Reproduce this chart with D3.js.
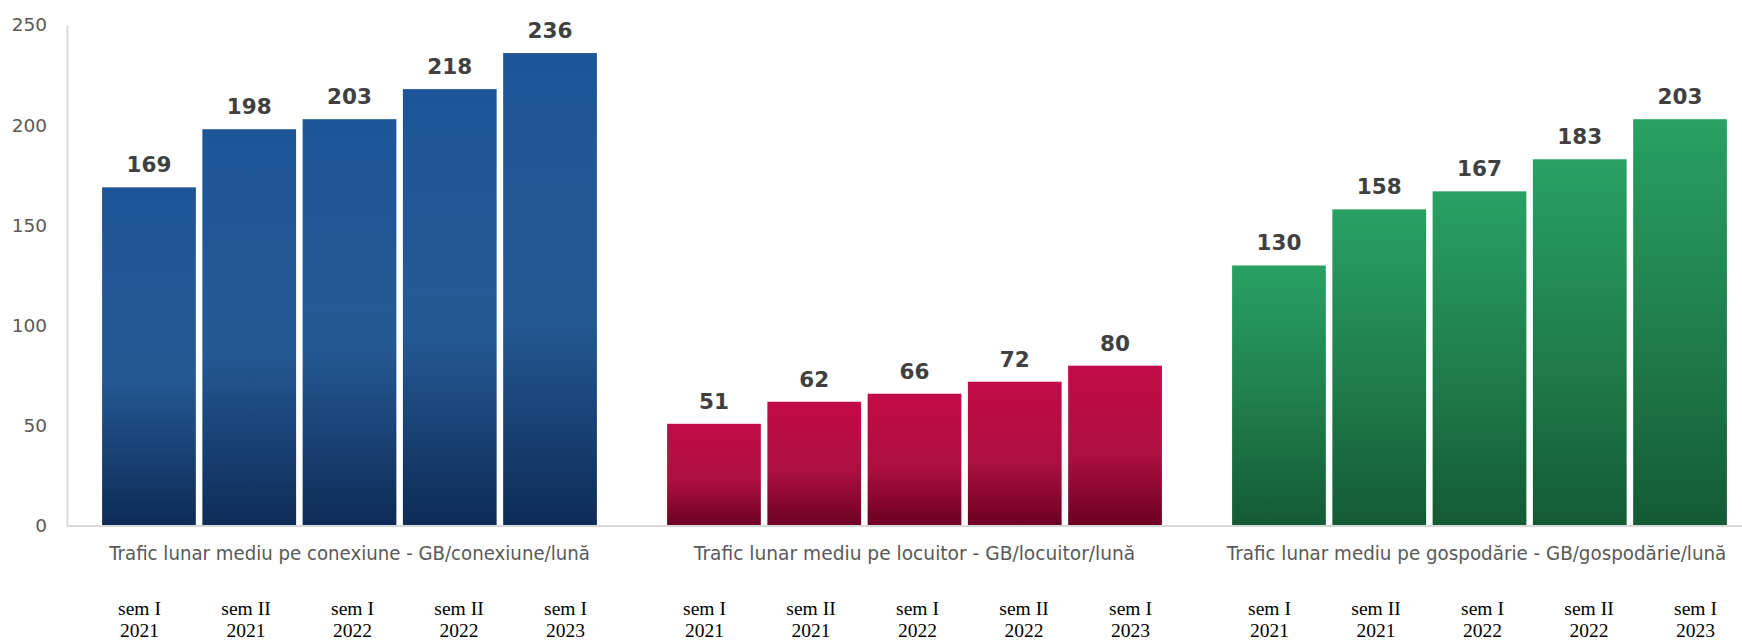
<!DOCTYPE html>
<html><head><meta charset="utf-8">
<script src="https://cdn.jsdelivr.net/npm/d3@7"></script>
<style>html,body{margin:0;padding:0;background:#fff;}svg{display:block;}</style>
</head><body><svg id="c" width="1742" height="642"></svg>
<script>
const categories = ["Trafic lunar mediu pe conexiune - GB/conexiune/lună","Trafic lunar mediu pe locuitor - GB/locuitor/lună","Trafic lunar mediu pe gospodărie - GB/gospodărie/lună"];
const periods = ["sem I 2021","sem II 2021","sem I 2022","sem II 2022","sem I 2023"];
const periodLines = [["sem I","2021"],["sem II","2021"],["sem I","2022"],["sem II","2022"],["sem I","2023"]];
const conexiune = [169,198,203,218,236];
const locuitor = [51,62,66,72,80];
const gospodarie = [130,158,167,183,203];
const yTicks = [0,50,100,150,200,250];

const seriesByCat = [conexiune, locuitor, gospodarie];
const gradients = [
  ["#1e5599","#245a93","#0e2b57"],
  ["#c20a47","#ad1040","#6c0022"],
  ["#28a163","#1f7c4a","#145a34"]
];

const svg = d3.select("#c");
const mLeft = 67, mRight = 1762, mTop = 25, mBottom = 526;
const x0 = d3.scaleBand().domain(categories).range([mLeft, mRight]).paddingInner(0).paddingOuter(0);
const x1 = d3.scaleBand().domain(periods).range([0, x0.bandwidth()]).paddingInner(0.065).paddingOuter(0.35);
const xl = d3.scalePoint().domain(periods).range([0, 426]);
const y = d3.scaleLinear().domain([0,250]).range([mBottom, mTop]);

const defs = svg.append("defs");
gradients.forEach((g,i)=>{
  const lg = defs.append("linearGradient").attr("id","g"+i).attr("x1",0).attr("y1",0).attr("x2",0).attr("y2",1);
  lg.append("stop").attr("offset","0%").attr("stop-color",g[0]);
  lg.append("stop").attr("offset","55%").attr("stop-color",g[1]);
  lg.append("stop").attr("offset","100%").attr("stop-color",g[2]);
});

const yAxis = d3.axisLeft(y).tickValues(yTicks).tickSize(0).tickPadding(20);
const ya = svg.append("g").attr("transform",`translate(${mLeft},0)`).call(yAxis);
ya.select(".domain").attr("stroke","#d9d9d9").attr("stroke-width",2);
ya.selectAll("text").attr("font-family","DejaVu Sans, Verdana, sans-serif").attr("font-size","18.5px").attr("fill","#595959");

const labelLen = [481,442,500];
categories.forEach((c,ci)=>{
  const g = svg.append("g").attr("transform",`translate(${x0(c)},0)`);
  const vals = seriesByCat[ci];
  g.selectAll("rect").data(periods).join("rect")
    .attr("x",p=>x1(p)).attr("width",x1.bandwidth())
    .attr("y",(p,i)=>y(vals[i])).attr("height",(p,i)=>y(0)-y(vals[i]))
    .attr("fill",`url(#g${ci})`);
  g.selectAll("text.v").data(periods).join("text").attr("class","v")
    .attr("x",p=>x1(p)+x1.bandwidth()/2).attr("y",(p,i)=>y(vals[i])-15)
    .attr("text-anchor","middle").attr("font-family","DejaVu Sans, Verdana, sans-serif")
    .attr("font-weight","bold").attr("font-size","21.5px").attr("fill","#404040")
    .text((p,i)=>vals[i]);
  const cl = g.append("text").attr("x",0).attr("y",0)
    .attr("text-anchor","middle").attr("font-family","DejaVu Sans, Tahoma, sans-serif")
    .attr("font-size","19px").attr("fill","#595959")
    .text(c);
  const w = cl.node().getComputedTextLength() || labelLen[ci];
  cl.attr("transform",`translate(${x0.bandwidth()/2 - (ci===2 ? 3 : 0)},560) scale(${labelLen[ci]/w},1)`);
  const off = x0.bandwidth()/2 - 210;
  periods.forEach((p,i)=>{
    const t = g.append("text").attr("text-anchor","middle")
      .attr("font-family","Liberation Serif, Times New Roman, serif").attr("font-size","19.5px").attr("fill","#000");
    t.append("tspan").attr("x",off+xl(p)).attr("y",615).text(periodLines[i][0]);
    t.append("tspan").attr("x",off+xl(p)).attr("y",637).text(periodLines[i][1]);
  });
});

svg.append("line").attr("x1",mLeft).attr("x2",mRight).attr("y1",y(0)).attr("y2",y(0)).attr("stroke","#d9d9d9").attr("stroke-width",2);
</script></body></html>
